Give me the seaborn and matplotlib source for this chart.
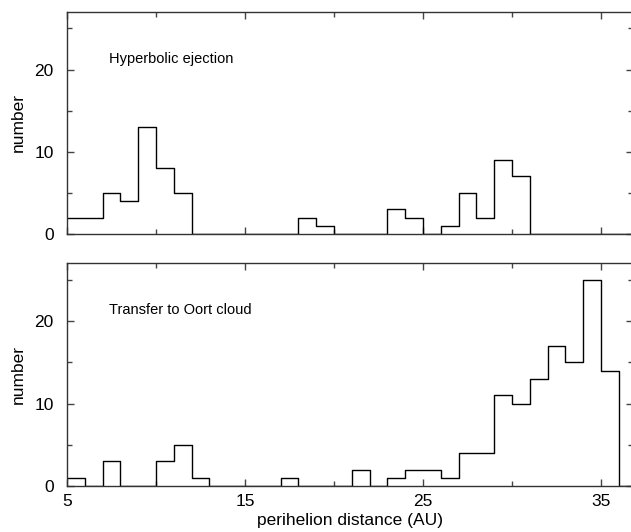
import numpy as np
import pandas as pd
import matplotlib
matplotlib.use("Agg")
import matplotlib.pyplot as plt
import seaborn as sns
from matplotlib.ticker import MultipleLocator, FixedLocator

# Bin-Untergrenzen (AU), Breite 1
bin_left = np.arange(5, 37)

# Hyperbolische Ejektion: Anzahl pro Bin (5..36)
counts_hyper = [2, 2, 5, 4, 13, 8, 5, 0, 0, 0, 0, 0, 0, 2, 1, 0,
                0, 0, 3, 2, 0, 1, 5, 2, 9, 7, 0, 0, 0, 0, 0, 0]
# Transfer in die Oortsche Wolke
counts_oort = [1, 0, 3, 0, 0, 3, 5, 1, 0, 0, 0, 0, 1, 0, 0, 0,
               2, 0, 1, 2, 2, 1, 4, 4, 11, 10, 13, 17, 15, 25, 14, 0]

panel_titles = ["Hyperbolic ejection", "Transfer to Oort cloud"]
x_ticks = [5, 15, 25, 35]

sns.set_theme(style="ticks")
plt.rcParams['font.family'] = ['Liberation Sans', 'DejaVu Sans']

fig = plt.figure(figsize=(6.31, 5.32), dpi=100)
# rechte Achse liegt knapp ausserhalb des Bildes (wie im Original beschnitten)
ax_top = fig.add_axes([0.1062, 0.5602, 0.897, 0.4172])
ax_bot = fig.add_axes([0.1062, 0.0865, 0.897, 0.4182])

for ax, counts, title in [(ax_top, counts_hyper, panel_titles[0]),
                          (ax_bot, counts_oort, panel_titles[1])]:
    df = pd.DataFrame({"q": bin_left + 0.5, "n": counts})
    sns.histplot(data=df, x="q", weights="n", binwidth=1, binrange=(5, 37),
                 element="step", fill=False, color="black",
                 linewidth=1.0, ax=ax)
    ax.set_xlim(5, 36.8)
    ax.set_ylim(0, 27)
    ax.xaxis.set_major_locator(FixedLocator(x_ticks))
    ax.xaxis.set_minor_locator(MultipleLocator(5))
    ax.yaxis.set_major_locator(MultipleLocator(10))
    ax.yaxis.set_minor_locator(MultipleLocator(5))
    ax.tick_params(which="both", direction="in", top=True, right=True,
                   color="#444444", labelsize=12.5, labelcolor="black")
    ax.tick_params(axis="x", pad=6)
    ax.tick_params(axis="y", pad=9.5)
    ax.tick_params(which="major", length=5, width=1)
    ax.tick_params(which="minor", length=3.5, width=1)
    for sp in ax.spines.values():
        sp.set_color("#333333")
        sp.set_linewidth(1.0)
    ax.set_ylabel("number", fontsize=12.5, labelpad=6, color="black")
    ax.text(0.074, 0.79, title, transform=ax.transAxes, fontsize=10.5,
            ha="left", va="center", color="black")

ax_top.set_xlabel("")
ax_top.tick_params(labelbottom=False)
ax_bot.set_xlabel("perihelion distance (AU)", fontsize=12.5, labelpad=3,
                  color="black")

fig.savefig("out.png", dpi=100)
